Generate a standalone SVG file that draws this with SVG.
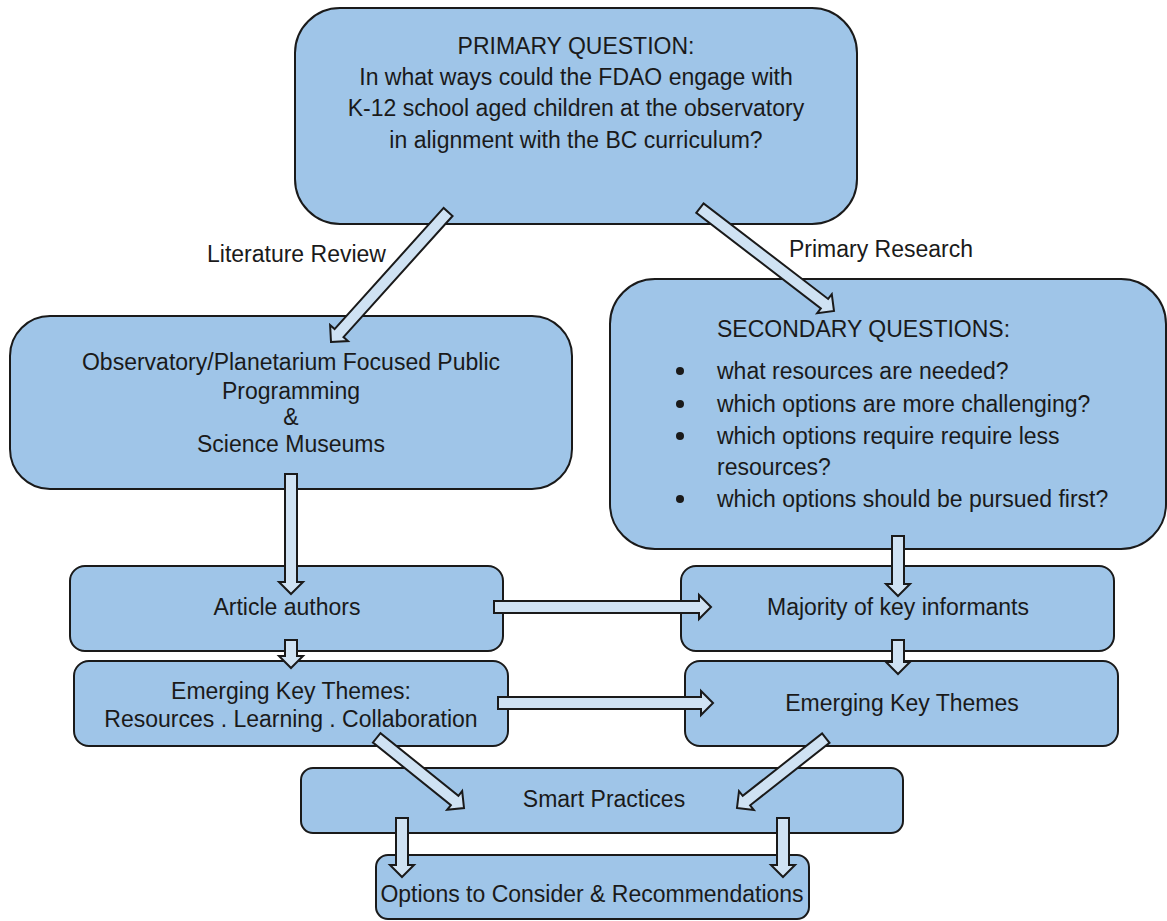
<svg xmlns="http://www.w3.org/2000/svg" width="1167" height="921" viewBox="0 0 1167 921">
<style>
.box{fill:#9fc5e8;stroke:#1a1a1a;stroke-width:2}
.arr{fill:#cfe2f3;stroke:#1a1a1a;stroke-width:2;stroke-linejoin:miter}
text{font-family:"Liberation Sans",Arial,sans-serif;font-size:23px;fill:#1a1a1a}
.c{text-anchor:middle}
</style>
<rect width="1167" height="921" fill="#ffffff"/>
<g id="n-primary">
<rect class="box" x="295" y="8" width="562" height="216" rx="45"/>
<text class="c" x="576" y="54">PRIMARY QUESTION:</text>
<text class="c" x="576" y="85">In what ways could the FDAO engage with</text>
<text class="c" x="576" y="116">K-12 school aged children at the observatory</text>
<text class="c" x="576" y="148">in alignment with the BC curriculum?</text>
</g>
<g id="n-literature">
<rect class="box" x="10" y="316" width="562" height="173" rx="40"/>
<text class="c" x="291" y="370">Observatory/Planetarium Focused Public</text>
<text class="c" x="291" y="399">Programming</text>
<text class="c" x="291" y="425">&amp;</text>
<text class="c" x="291" y="452">Science Museums</text>
</g>
<g id="n-secondary">
<rect class="box" x="610" y="279" width="556" height="270" rx="45"/>
<text x="717" y="337">SECONDARY QUESTIONS:</text>
<circle cx="680" cy="371" r="4" fill="#1a1a1a"/>
<text x="717" y="379">what resources are needed?</text>
<circle cx="680" cy="404" r="4" fill="#1a1a1a"/>
<text x="717" y="412">which options are more challenging?</text>
<circle cx="680" cy="436" r="4" fill="#1a1a1a"/>
<text x="717" y="444">which options require require less</text>
<text x="717" y="475">resources?</text>
<circle cx="680" cy="499" r="4" fill="#1a1a1a"/>
<text x="717" y="507">which options should be pursued first?</text>
</g>
<g id="n-article">
<rect class="box" x="70" y="566" width="433" height="85" rx="15"/>
<text class="c" x="287" y="615">Article authors</text>
</g>
<g id="n-majority">
<rect class="box" x="681" y="566" width="433" height="85" rx="15"/>
<text class="c" x="898" y="615">Majority of key informants</text>
</g>
<g id="n-emerging-left">
<rect class="box" x="74" y="661" width="434" height="85" rx="15"/>
<text class="c" x="291" y="699">Emerging Key Themes:</text>
<text class="c" x="291" y="727">Resources . Learning . Collaboration</text>
</g>
<g id="n-emerging-right">
<rect class="box" x="685" y="661" width="433" height="85" rx="15"/>
<text class="c" x="902" y="711">Emerging Key Themes</text>
</g>
<g id="n-smart">
<rect class="box" x="301" y="768" width="602" height="65" rx="12"/>
<text class="c" x="604" y="807">Smart Practices</text>
</g>
<g id="n-options">
<rect class="box" x="376" y="855" width="433" height="64" rx="12"/>
<text class="c" x="592" y="902">Options to Consider &amp; Recommendations</text>
</g>
<g id="labels">
<text x="207" y="262">Literature Review</text>
<text x="789" y="257">Primary Research</text>
</g>
<g id="connectors">
<polygon class="arr" transform="translate(331,342) rotate(132)" points="0,0 -12,-12 -12,-6 -175,-6 -175,6 -12,6 -12,12"/>
<polygon class="arr" transform="translate(834,311) rotate(37.5)" points="0,0 -12,-12 -12,-6 -169,-6 -169,6 -12,6 -12,12"/>
<polygon class="arr" transform="translate(291,594) rotate(90)" points="0,0 -12,-12 -12,-6 -120,-6 -120,6 -12,6 -12,12"/>
<polygon class="arr" transform="translate(898,596) rotate(90)" points="0,0 -12,-12 -12,-6 -60,-6 -60,6 -12,6 -12,12"/>
<polygon class="arr" transform="translate(711,607)" points="0,0 -12,-12 -12,-6 -217,-6 -217,6 -12,6 -12,12"/>
<polygon class="arr" transform="translate(291,668) rotate(90)" points="0,0 -12,-12 -12,-6 -28,-6 -28,6 -12,6 -12,12"/>
<polygon class="arr" transform="translate(898,674) rotate(90)" points="0,0 -12,-12 -12,-6 -34,-6 -34,6 -12,6 -12,12"/>
<polygon class="arr" transform="translate(713,703)" points="0,0 -12,-12 -12,-6 -215,-6 -215,6 -12,6 -12,12"/>
<polygon class="arr" transform="translate(464,808) rotate(38.8)" points="0,0 -12,-12 -12,-6 -112,-6 -112,6 -12,6 -12,12"/>
<polygon class="arr" transform="translate(737,808) rotate(141.8)" points="0,0 -12,-12 -12,-6 -113,-6 -113,6 -12,6 -12,12"/>
<polygon class="arr" transform="translate(402,877) rotate(90)" points="0,0 -12,-12 -12,-6 -59,-6 -59,6 -12,6 -12,12"/>
<polygon class="arr" transform="translate(783,877) rotate(90)" points="0,0 -12,-12 -12,-6 -59,-6 -59,6 -12,6 -12,12"/>
</g>
</svg>
